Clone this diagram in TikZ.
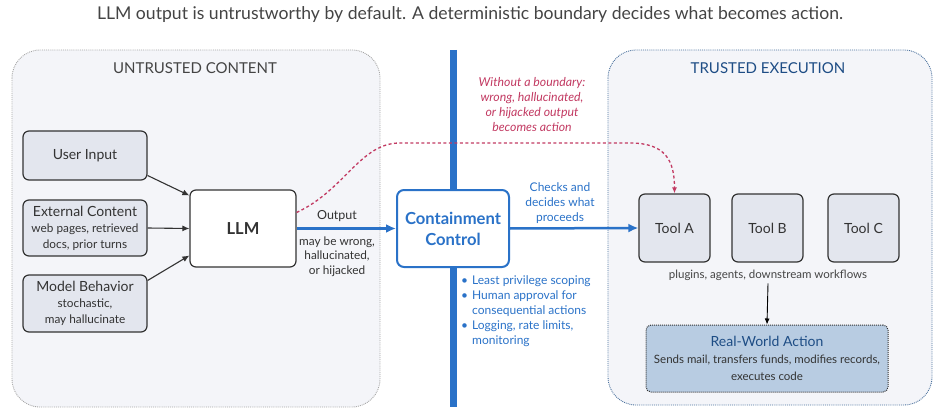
\documentclass[tikz,border=0pt]{standalone}
\usepackage{fontspec}
\setmainfont{Lato}
\usetikzlibrary{arrows.meta,calc}
\definecolor{panelfill}{HTML}{F4F5F9}
\definecolor{boxfill}{HTML}{E3E6EE}
\definecolor{ctrlblue}{HTML}{2A72C8}
\definecolor{deepblue}{HTML}{1E4D85}
\definecolor{warnred}{HTML}{C23A62}
\definecolor{inkgrey}{HTML}{333333}
\definecolor{textgrey}{HTML}{444444}
\definecolor{actionfill}{HTML}{B8CCE2}
\newcommand{\fs}[2]{\fontsize{#1}{#2}\selectfont}
\newcommand{\subtext}{\fs{11.8}{14.5}}
\tikzset{
    panel/.style={rounded corners=28pt,fill=panelfill,densely dotted,line width=0.9pt},
    srcbox/.style={draw=inkgrey,fill=boxfill,rounded corners=6pt,line width=1.2pt,
        align=center,inner sep=0pt,text=inkgrey},
    toolbox/.style={srcbox,minimum width=71pt,minimum height=68pt,font=\fs{14}{16}},
    feed/.style={-{Latex[length=7pt,width=6pt]},line width=1.1pt,inkgrey},
    flow/.style={-{Latex[length=10pt,width=9pt]},line width=2.5pt,ctrlblue},
    leak/.style={-{Latex[length=6pt,width=5pt]},line width=1.3pt,warnred,dash pattern=on 3pt off 2.5pt},
    note/.style={align=center,inner sep=0pt},
}
\begin{document}
\begin{tikzpicture}[x=1pt,y=-1pt]
\useasboundingbox (0,0) rectangle (940,417);

\node[note,text=textgrey,font=\fs{17.6}{20}] (title) at (470,15)
    {LLM output is untrustworthy by default. A deterministic boundary decides what becomes action.};

% the two zones
\draw[panel,draw=gray!70] (12,50) rectangle (380,407);
\draw[panel,draw=deepblue!80] (608,50) rectangle (932,405);
\node[note,text=textgrey,font=\fs{15}{17}] (untrusted) at (195,68) {UNTRUSTED CONTENT};
\node[note,text=deepblue,font=\fs{15}{17}] (trusted) at (768,68) {TRUSTED EXECUTION};

% boundary
\coordinate (barTop) at (453,50);
\coordinate (barBottom) at (453,407);
\draw[line width=7pt,ctrlblue] (barTop) -- (barBottom);

% inputs
\node[srcbox,minimum width=124pt,minimum height=49pt,font=\fs{14}{16}] (user) at (85,155.5) {User Input};
\node[srcbox,minimum width=124pt,minimum height=56pt,font=\fs{14}{16}] (ext) at (85,228)
    {External Content\\ \subtext web pages, retrieved\\ \subtext docs, prior turns};
\node[srcbox,minimum width=124pt,minimum height=57pt,font=\fs{14}{16}] (model) at (85,303.5)
    {Model Behavior\\ \subtext stochastic,\\ \subtext may hallucinate};
\node[srcbox,fill=white,minimum width=106pt,minimum height=77pt,font=\bfseries\fs{16.5}{18}] (llm) at (243,228.5) {LLM};

\draw[feed] ([yshift=-20pt]user.east) -- ([yshift=33pt]llm.west);
\draw[feed] (ext.east) -- (llm.west);
\draw[feed] ([yshift=23pt]model.east) -- ([yshift=-27pt]llm.west);

% control
\node[draw=ctrlblue,fill=white,line width=2pt,rounded corners=7pt,minimum width=112pt,minimum height=77pt,
    align=center,inner sep=0pt,text=ctrlblue,font=\bfseries\fs{16.6}{21}] (ctrl) at (453,228.5) {Containment\\Control};

\draw[flow] (llm.east) -- (ctrl.west);
\node[note,text=inkgrey,font=\fs{12.5}{14}] (outlabel) at (337,216) {Output};
\node[note,text=inkgrey,font=\fs{11.8}{14.5}] (outnote) at (337,256.5) {may be wrong,\\hallucinated,\\or hijacked};

\node[note,text=ctrlblue,font=\fs{12}{15}] (checks) at (560,203) {Checks and\\decides what\\proceeds};
\node[anchor=north west,inner sep=0pt,text=ctrlblue,font=\fs{12}{15}] (rules) at (461,273.5)
    {\begin{tabular}{@{}l@{\hspace{4pt}}l@{}}
    \textbullet & Least privilege scoping\\
    \textbullet & Human approval for\\
     & consequential actions\\
    \textbullet & Logging, rate limits,\\
     & monitoring
    \end{tabular}};

\node[note,text=warnred,font=\itshape\fs{12.3}{15}] (warning) at (532,104.5)
    {Without a boundary:\\wrong, hallucinated,\\or hijacked output\\becomes action};

% tools
\node[toolbox] (toolA) at (674.5,228) {Tool A};
\node[toolbox] (toolB) at (767.5,228) {Tool B};
\node[toolbox] (toolC) at (863.5,228) {Tool C};
\node[note,text=textgrey,font=\fs{11.5}{13}] (toolnote) at (768,275) {plugins, agents, downstream workflows};

\draw[flow] (ctrl.east) -- (toolA.west);
\draw[leak] ([yshift=16pt]llm.east) .. controls (345,190) and (360,143) .. (400,143)
    -- (630,143) .. controls (665,143) and (674.5,160) .. (toolA.north);

\node[draw=inkgrey,densely dotted,fill=actionfill,rounded corners=5pt,line width=1pt,
    minimum width=242pt,minimum height=67pt,align=center,inner sep=0pt,text=deepblue,font=\fs{14}{17}] (action) at (767,358.5)
    {Real-World Action\\ \color{inkgrey}\fs{11.5}{15}Sends mail, transfers funds, modifies records,\\ \color{inkgrey}\fs{11.5}{15}executes code};
\draw[-{Latex[length=6pt,width=5pt]},line width=0.9pt,black] ([yshift=-3pt]toolnote.south) -- (action.north);
\end{tikzpicture}
\end{document}
